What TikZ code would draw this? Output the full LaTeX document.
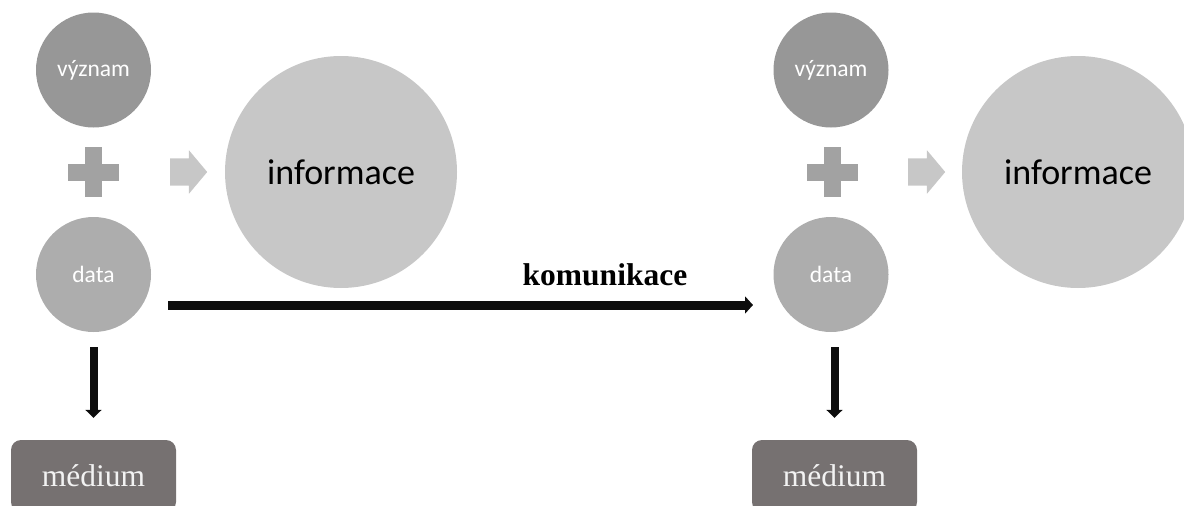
\documentclass[tikz,border=0pt]{standalone}
\usepackage{fontspec}
\setmainfont{Liberation Serif}
\newfontfamily\calibri{Carlito}
\usetikzlibrary{arrows.meta, positioning, shapes.arrows}

\definecolor{vyznamgrey}{HTML}{979797}
\definecolor{datagrey}{HTML}{ADADAD}
\definecolor{infogrey}{HTML}{C7C7C7}
\definecolor{plusgrey}{HTML}{A2A2A2}
\definecolor{mediumgrey}{HTML}{767171}
\definecolor{darkline}{HTML}{0D0D0D}

\begin{document}
\begin{tikzpicture}[x=1pt, y=-1pt, on grid,
    bubble/.style={circle, inner sep=0pt, text=white, font=\calibri\fontsize{23.5}{28}\selectfont, minimum size=115pt},
    infobubble/.style={circle, inner sep=0pt, fill=infogrey, font=\calibri\fontsize{36}{42}\selectfont, minimum size=232pt},
    mediumbox/.style={rectangle, rounded corners=10pt, fill=mediumgrey, text=white!95!black, font=\fontsize{31.5}{36}\selectfont, minimum width=165pt, minimum height=72pt},
    fatarrow/.style={single arrow, fill=infogrey, anchor=tail, inner xsep=0pt, inner ysep=13.5pt, minimum height=37pt, single arrow head extend=8pt, single arrow head indent=0pt, single arrow tip angle=100},
    downarrow/.style={draw=darkline, line width=8pt, -{Triangle[length=8pt, width=16pt]}, shorten <=15pt, shorten >=22pt},
    komarrow/.style={draw=darkline, line width=9pt, -{Triangle[length=8pt, width=17pt]}},
    plussign/.pic={\fill[plusgrey] (-25.5,-8.5) rectangle (25.5,8.5);
                   \fill[plusgrey] (-8.5,-25) rectangle (8.5,25);}]
    \useasboundingbox (0,0) rectangle (1184,506);
    \clip (0,0) rectangle (1184,506);

    \node[bubble, fill=vyznamgrey] (vyznamL) at (93.5,70) {význam};
    \node[bubble, fill=datagrey] (dataL) [below=204.5pt of vyznamL] {data};
    \pic at (93.5,172) {plussign};
    \node[fatarrow] (sipkaL) at (170,172) {};
    \node[infobubble] (infoL) at (341,172) {informace};
    \node[mediumbox] (mediumL) at (93.5,476) {médium};

    \node[bubble, fill=vyznamgrey] (vyznamR) at (831,70) {význam};
    \node[bubble, fill=datagrey] (dataR) [below=204.5pt of vyznamR] {data};
    \pic at (832,172) {plussign};
    \node[fatarrow] (sipkaR) at (908,172) {};
    \node[infobubble] (infoR) at (1078,172) {informace};
    \node[mediumbox] (mediumR) at (834.5,476) {médium};

    \coordinate (komStart) at (168,305);
    \coordinate (komEnd) at (753,305);

    \draw[downarrow] (dataL.south -| mediumL) -- (mediumL.north);
    \draw[downarrow] (dataR.south -| mediumR) -- (mediumR.north);
    \draw[komarrow] (komStart) -- node[pos=.747, anchor=base, yshift=20pt, font=\bfseries\fontsize{31.5}{36}\selectfont] {komunikace} (komEnd);
\end{tikzpicture}
\end{document}
